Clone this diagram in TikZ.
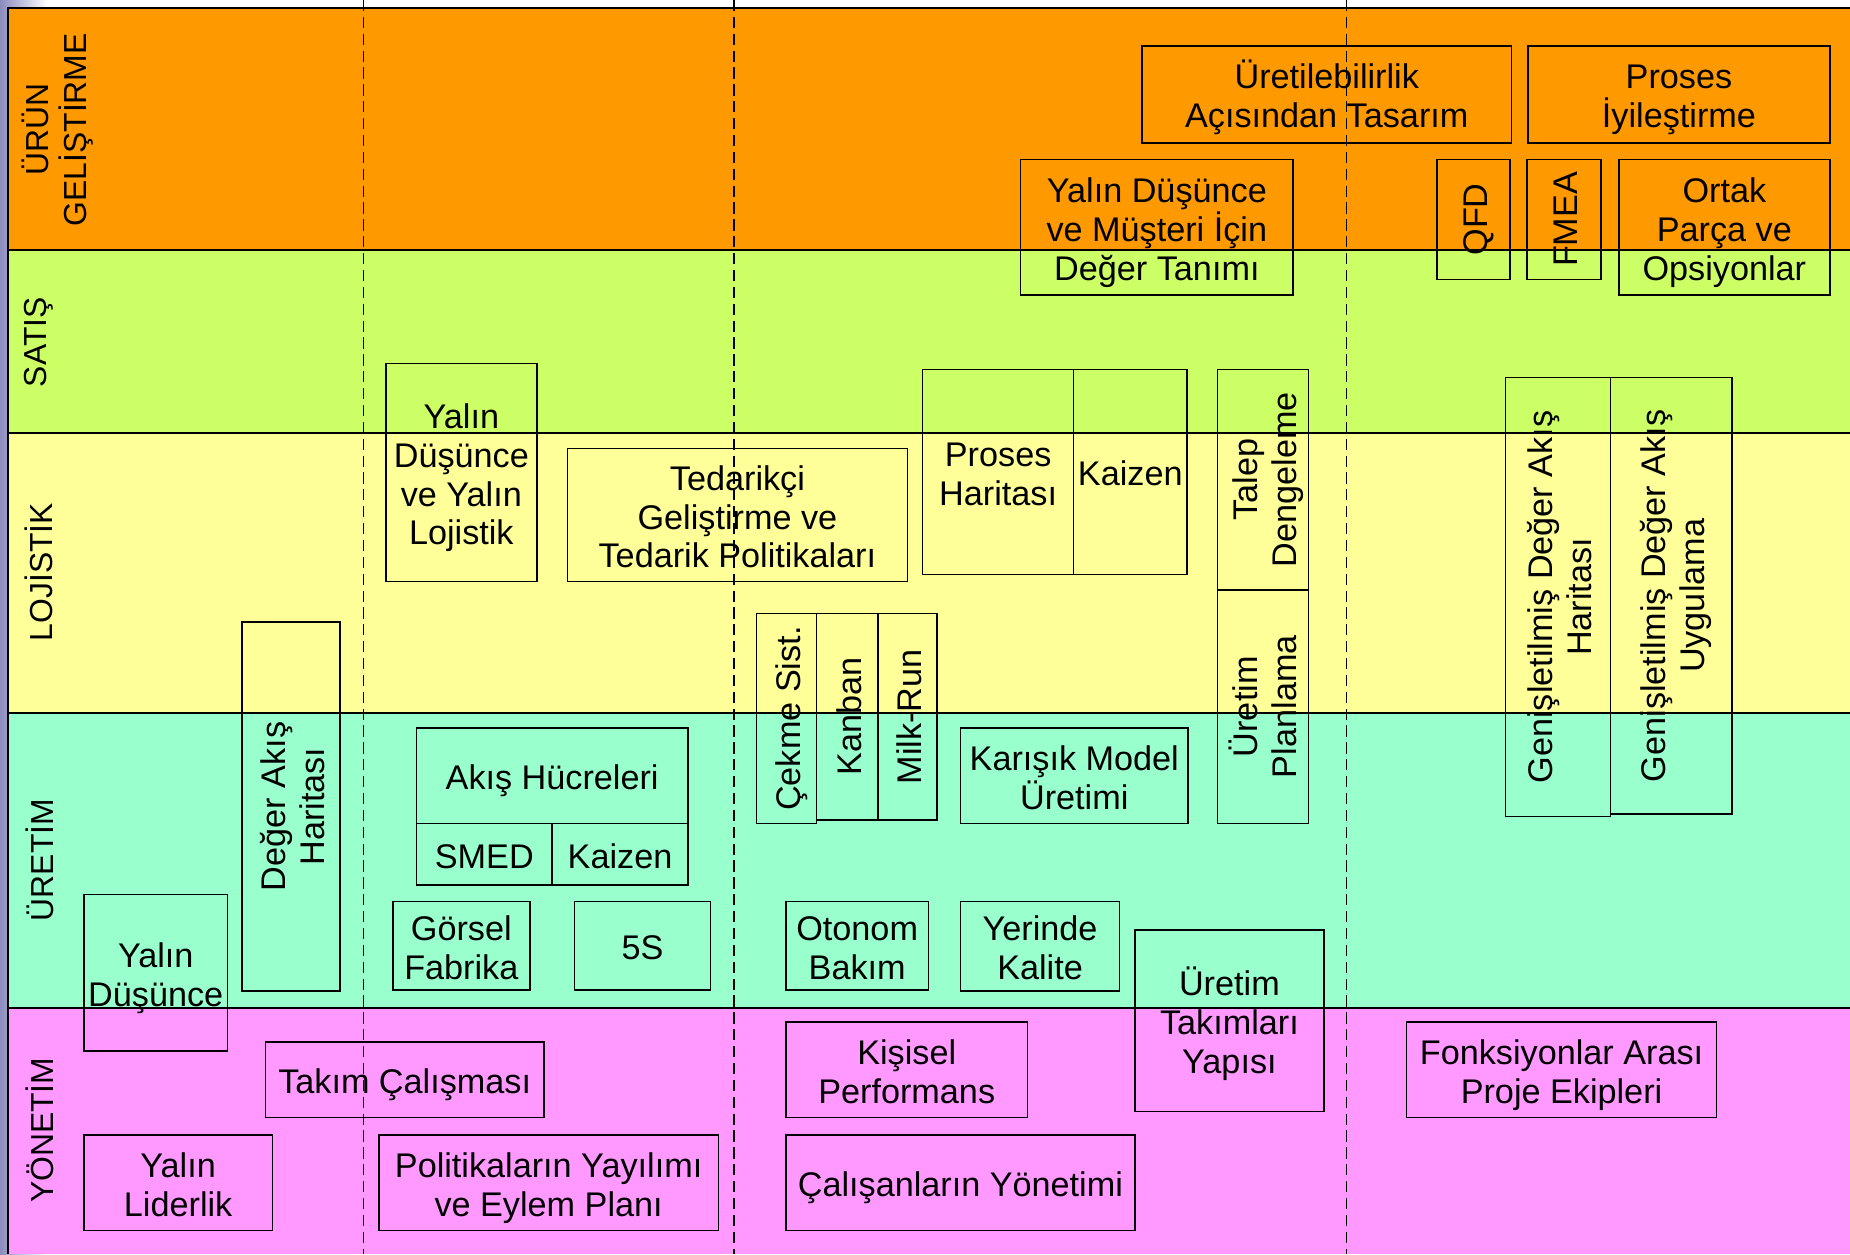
\documentclass[tikz,border=0pt]{standalone}
\usepackage{fontspec}
\setmainfont{Liberation Sans}
\usepackage{xcolor}
\usepackage{tikz}
\usetikzlibrary{positioning}

\definecolor{urunC}{HTML}{FF9900}
\definecolor{satisC}{HTML}{CCFF66}
\definecolor{lojC}{HTML}{FFFF99}
\definecolor{uretC}{HTML}{99FFCC}
\definecolor{yonC}{HTML}{FF99FF}
\definecolor{slideC}{HTML}{8C8CBE}

\newcommand{\ustrut}{\rule{0pt}{31pt}}

\begin{document}
\begin{tikzpicture}[x=1pt, y=-1pt,
    box/.style={draw, line width=1.3pt, inner sep=0pt, outer sep=0pt, align=center,
      font=\fontsize{29}{33}\selectfont,
      execute at begin node={\ustrut}, text depth=7.25pt},
    vbox/.style={box, rotate=90},
    lane/.style={rotate=90, align=center, inner sep=0pt, font=\fontsize{27}{32}\selectfont},
    sep/.style={line width=1.8pt},
    guide/.style={line width=1.1pt, dash pattern=on 9.5pt off 4.8pt}]

        \useasboundingbox (0,0) rectangle (1568,1063);

        % 背景和泳道
        \shade[left color=slideC, right color=white] (0,0) rectangle (40,1063);
        \fill[white] (40,0) rectangle (1568,7);
        \fill[urunC] (7,7) rectangle (1568,212);
        \fill[satisC] (7,212) rectangle (1568,367);
        \fill[lojC] (7,367) rectangle (1568,604);
        \fill[uretC] (7,604) rectangle (1568,854);
        \fill[yonC] (7,854) rectangle (1568,1063);
        \draw[sep] (7,1063) -- (7,7) -- (1568,7);
        \draw[sep] (7,212) -- (1568,212);
        \draw[sep] (7,367) -- (1568,367);
        \draw[sep] (7,604) -- (1568,604);
        \draw[sep] (7,854) -- (1568,854);

        \draw[guide] (308,0) -- (308,1063);
        \draw[guide] (622,0) -- (622,1063);
        \draw[guide] (1141,0) -- (1141,1063);

        \node (lblUrun) [lane] at (49,110) {ÜRÜN\\GELİŞTİRME};
        \node (lblSatis) [lane] at (33,290) {SATIŞ};
        \node (lblLoj) [lane] at (33,485) {LOJİSTİK};
        \node (lblUret) [lane] at (34,729) {ÜRETİM};
        \node (lblYon) [lane] at (34,958) {YÖNETİM};

        % ürün geliştirme
        \node (tasarim) [box, anchor=north west, minimum width=313pt, minimum height=82pt] at (968,39) {\ustrut Üretilebilirlik\\Açısından Tasarım};
        \node (iyiles) [box, anchor=north west, minimum width=256pt, minimum height=82pt] at (1295,39) {\ustrut Proses\\İyileştirme};
        \node (degerTan) [box, anchor=north west, minimum width=231pt, minimum height=115pt] at (865,135) {\ustrut Yalın Düşünce\\ve Müşteri İçin\\Değer Tanımı};
        \node (qfd) [vbox, minimum width=102pt, minimum height=62pt] at (1249,186) {QFD};
        \node (fmea) [vbox, minimum width=102pt, minimum height=63pt] at (1325.5,186) {FMEA};
        \node (ortak) [box, anchor=north west, minimum width=179pt, minimum height=115pt] at (1372,135) {\ustrut Ortak\\Parça ve\\Opsiyonlar};

        % satış / lojistik
        \node (yalinLoj) [box, anchor=north west, minimum width=128pt, minimum height=185pt] at (327,308) {\ustrut Yalın\\Düşünce\\ve Yalın\\Lojistik};
        \node (tedarik) [box, anchor=north west, minimum width=288pt, minimum height=113pt] at (481,380) {\ustrut Tedarikçi\\Geliştirme ve\\Tedarik Politikaları};
        \node (prosesHar) [box, anchor=north west, minimum width=128pt, minimum height=174pt] at (782,313) {\ustrut Proses\\Haritası};
        \node (kaizenL) [box, right=0pt of prosesHar, minimum width=96pt, minimum height=174pt] {Kaizen};
        \node (talep) [vbox, minimum width=187pt, minimum height=77pt] at (1070.5,406.5) {\ustrut Talep\\Dengeleme};
        \node (planlama) [vbox, minimum width=198pt, minimum height=77pt] at (1070.5,599) {\ustrut Üretim\\Planlama};
        \node (gdaHar) [vbox, minimum width=372pt, minimum height=89pt] at (1320.5,506) {\ustrut Genişletilmiş Değer Akış\\Haritası};
        \node (gdaUyg) [vbox, minimum width=370pt, minimum height=103pt] at (1416.5,505) {\ustrut Genişletilmiş Değer Akış\\Uygulama};
        \node (degerAkis) [vbox, minimum width=313pt, minimum height=83pt] at (246.5,683.5) {\ustrut Değer Akış\\Haritası};
        \node (cekme) [vbox, minimum width=178pt, minimum height=51pt] at (666.5,609) {Çekme Sist.};
        \node (kanban) [vbox, minimum width=175pt, minimum height=52pt] at (718,607.5) {Kanban};
        \node (milkrun) [vbox, minimum width=175pt, minimum height=50pt] at (769,607.5) {Milk-Run};

        % üretim
        \node (akis) [box, anchor=north west, minimum width=230pt, minimum height=81pt] at (353,617) {Akış Hücreleri};
        \node (smed) [box, below right=0pt and 0pt of akis.south west, minimum width=115pt, minimum height=52pt] {SMED};
        \node (kaizenU) [box, right=0pt of smed, minimum width=115pt, minimum height=52pt] {Kaizen};
        \node (gorsel) [box, anchor=north west, minimum width=116pt, minimum height=75pt] at (333,764) {\ustrut Görsel\\Fabrika};
        \node (bes) [box, anchor=north west, minimum width=115pt, minimum height=75pt] at (487,764) {5S};
        \node (otonom) [box, anchor=north west, minimum width=121pt, minimum height=75pt] at (666,764) {\ustrut Otonom\\Bakım};
        \node (karisik) [box, anchor=north west, minimum width=193pt, minimum height=81pt] at (814,617) {\ustrut Karışık Model\\Üretimi};
        \node (yerinde) [box, anchor=north west, minimum width=135pt, minimum height=76pt] at (814,764) {\ustrut Yerinde\\Kalite};
        \node (takimYapi) [box, anchor=north west, minimum width=160pt, minimum height=154pt] at (962,788) {\ustrut Üretim\\Takımları\\Yapısı};
        \node (yalinDus) [box, anchor=north west, minimum width=122pt, minimum height=133pt] at (71,758) {\ustrut Yalın\\Düşünce};

        % yönetim
        \node (takimCal) [box, anchor=north west, minimum width=236pt, minimum height=64pt] at (225,883) {Takım Çalışması};
        \node (liderlik) [box, anchor=north west, minimum width=160pt, minimum height=81pt] at (71,962) {\ustrut Yalın\\Liderlik};
        \node (politika) [box, anchor=north west, minimum width=288pt, minimum height=81pt] at (321,962) {\ustrut Politikaların Yayılımı\\ve Eylem Planı};
        \node (kisisel) [box, anchor=north west, minimum width=205pt, minimum height=81pt] at (666,866) {\ustrut Kişisel\\Performans};
        \node (calisan) [box, anchor=north west, minimum width=296pt, minimum height=81pt] at (666,962) {Çalışanların Yönetimi};
        \node (fonks) [box, anchor=north west, minimum width=263pt, minimum height=81pt] at (1192,866) {\ustrut Fonksiyonlar Arası\\Proje Ekipleri};

    \end{tikzpicture}
\end{document}
